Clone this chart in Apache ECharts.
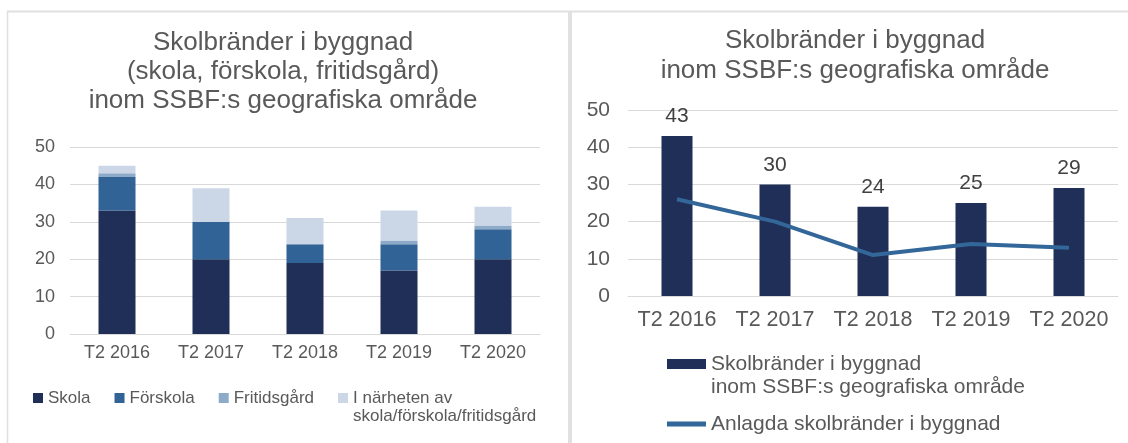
<!DOCTYPE html>
<html>
<head>
<meta charset="utf-8">
<script src="https://cdn.jsdelivr.net/npm/echarts@6/dist/echarts.min.js"></script>
<style>
  html, body { margin: 0; padding: 0; background: #fff; }
  #main { width: 1128px; height: 443px; }
</style>
</head>
<body>
<div id="main"></div>
<script>
  // kategorier
  const categories = ['T2 2016', 'T2 2017', 'T2 2018', 'T2 2019', 'T2 2020']
  // vänster diagram (staplade)
  const skola = [33, 20, 19, 17, 20]
  const forskola = [9, 10, 5, 7, 8]
  const fritidsgard = [1, 0, 0, 1, 1]
  const narheten = [2, 9, 7, 8, 5]
  // höger diagram
  const byggnad = [43, 30, 24, 25, 29]
  const anlagda = [26, 20, 11, 14, 13]
  const yTicks = [0, 10, 20, 30, 40, 50]

  const font = 'Liberation Sans, Arial, sans-serif'
  const textColor = '#595959'
  const gridColor = '#d9d9d9'
  const borderColor = '#e0e0e0'

  const nameNarheten = 'I närheten av\nskola/förskola/fritidsgård'
  const nameByggnad = 'Skolbränder i byggnad\ninom SSBF:s geografiska område'
  const nameAnlagda = 'Anlagda skolbränder i byggnad'

  let chart = echarts.init(document.getElementById('main'))

  function yAxis (idx, size, margin) {
    return {
      gridIndex: idx,
      type: 'value',
      min: yTicks[0],
      max: yTicks[yTicks.length - 1],
      interval: 10,
      axisLine: { show: false },
      axisTick: { show: false },
      axisLabel: { color: textColor, fontSize: size, fontFamily: font, margin: margin },
      splitLine: { lineStyle: { color: gridColor, width: 1 } }
    }
  }
  function xAxis (idx, size, margin) {
    return {
      gridIndex: idx,
      type: 'category',
      data: categories,
      axisLine: { lineStyle: { color: gridColor } },
      axisTick: { show: false },
      axisLabel: { color: textColor, fontSize: size, fontFamily: font, margin: margin, interval: 0 }
    }
  }
  // bara första raden i legenden, andra raden ritas som egen text
  function firstLine (name) {
    return name.split('\n')[0]
  }
  function secondLine (name) {
    return name.split('\n')[1]
  }

  let option = {
    animation: false,
    graphic: [
      // ramar runt panelerna
      { type: 'line', shape: { x1: 7, y1: 11.5, x2: 1128, y2: 11.5 }, style: { stroke: borderColor, lineWidth: 2 } },
      { type: 'line', shape: { x1: 7.5, y1: 11, x2: 7.5, y2: 443 }, style: { stroke: borderColor, lineWidth: 1.5 } },
      { type: 'line', shape: { x1: 570, y1: 11, x2: 570, y2: 443 }, style: { stroke: borderColor, lineWidth: 4 } },
      {
        type: 'text', left: 353, top: 408,
        style: { text: secondLine(nameNarheten), fill: textColor, font: '17px ' + font }
      },
      {
        type: 'text', left: 711, top: 377,
        style: { text: secondLine(nameByggnad), fill: textColor, font: '21px ' + font }
      }
    ],
    title: [
      {
        text: 'Skolbränder i byggnad\n(skola, förskola, fritidsgård)\ninom SSBF:s geografiska område',
        left: 283, top: 28, textAlign: 'center', padding: 0,
        textStyle: { color: textColor, fontSize: 26, fontWeight: 'normal', fontFamily: font, lineHeight: 29 }
      },
      {
        text: 'Skolbränder i byggnad\ninom SSBF:s geografiska område',
        left: 855, top: 26, textAlign: 'center', padding: 0,
        textStyle: { color: textColor, fontSize: 26, fontWeight: 'normal', fontFamily: font, lineHeight: 30 }
      }
    ],
    legend: [
      {
        data: ['Skola', 'Förskola', 'Fritidsgård', nameNarheten],
        formatter: firstLine,
        left: 33, top: 388, padding: 0,
        itemWidth: 10, itemHeight: 10, itemGap: 24,
        icon: 'rect',
        textStyle: { color: textColor, fontSize: 17, fontFamily: font, lineHeight: 20 }
      },
      {
        data: [
          { name: nameByggnad, icon: 'rect' },
          { name: nameAnlagda, icon: 'path://M0,0 L0,0 M0,2.5 L39,2.5 L39,7.5 L0,7.5 Z M39,10 L39,10' }
        ],
        formatter: firstLine,
        orient: 'vertical',
        left: 667, top: 352, padding: 0,
        itemWidth: 39, itemHeight: 10, itemGap: 36,
        textStyle: { color: textColor, fontSize: 21, fontFamily: font, lineHeight: 24 }
      }
    ],
    grid: [
      { left: 70, top: 147, width: 470, height: 187 },
      { left: 628, top: 110, width: 490, height: 186 }
    ],
    xAxis: [xAxis(0, 18, 10), xAxis(1, 21.5, 13)],
    yAxis: [yAxis(0, 18, 15), yAxis(1, 21, 18)],
    series: [
      { name: 'Skola', type: 'bar', stack: 'a', data: skola, barWidth: 37, xAxisIndex: 0, yAxisIndex: 0, itemStyle: { color: '#1f2f57' } },
      { name: 'Förskola', type: 'bar', stack: 'a', data: forskola, barWidth: 37, xAxisIndex: 0, yAxisIndex: 0, itemStyle: { color: '#316396' } },
      { name: 'Fritidsgård', type: 'bar', stack: 'a', data: fritidsgard, barWidth: 37, xAxisIndex: 0, yAxisIndex: 0, itemStyle: { color: '#8eaac9' } },
      { name: nameNarheten, type: 'bar', stack: 'a', data: narheten, barWidth: 37, xAxisIndex: 0, yAxisIndex: 0, itemStyle: { color: '#cbd7e6' } },
      {
        name: nameByggnad, type: 'bar', data: byggnad, barWidth: 31,
        xAxisIndex: 1, yAxisIndex: 1, itemStyle: { color: '#1f2f57' },
        label: { show: true, position: 'top', distance: 9, color: '#404040', fontSize: 21, fontFamily: font }
      },
      {
        name: nameAnlagda, type: 'line', data: anlagda, symbol: 'none',
        xAxisIndex: 1, yAxisIndex: 1, lineStyle: { color: '#336699', width: 4 }, itemStyle: { color: '#336699' }
      }
    ]
  }
  chart.setOption(option)
</script>
</body>
</html>
